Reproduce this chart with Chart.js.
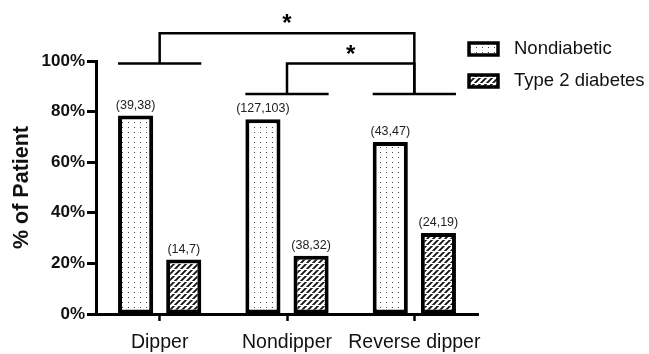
<!DOCTYPE html>
<html>
<head>
<meta charset="utf-8">
<script src="https://cdn.jsdelivr.net/npm/chart.js@4/dist/chart.umd.min.js"></script>
<style>
  body { margin: 0; background: #fff; }
  #wrap { width: 649px; height: 354px; }
</style>
</head>
<body>
<div id="wrap"><canvas id="chartPatient"></canvas></div>
<script>
// 데이터
const categories = ['Dipper', 'Nondipper', 'Reverse dipper'];
const seriesNames = ['Nondiabetic', 'Type 2 diabetes'];
const nondiabetic = [78.5, 77, 68];
const type2 = [21.5, 23, 32];
const nondiabeticCounts = ['(39,38)', '(127,103)', '(43,47)'];
const type2Counts = ['(14,7)', '(38,32)', '(24,19)'];
const yTicks = [0, 20, 40, 60, 80, 100];

// 유의성 표시: 그룹 아래 선 높이(%), 비교 [from, to, 높이]
const groupLine = [99, 87, 87];
const comparisons = [[0, 2, 111], [1, 2, 99]];

const FONT = "'Liberation Sans', Arial, sans-serif";

// 점 패턴
function dotPattern(){
    const c = document.createElement('canvas');
    c.width = 6; c.height = 5;
    const g = c.getContext('2d');
    g.fillStyle = '#fff';
    g.fillRect(0, 0, 6, 5);
    g.fillStyle = '#444';
    g.fillRect(2, 2, 1, 1);
    return g.createPattern(c, 'repeat');
}

// 빗금 패턴
function hatchPattern(){
    const c = document.createElement('canvas');
    c.width = 6; c.height = 6;
    const g = c.getContext('2d');
    g.fillStyle = '#fff';
    g.fillRect(0, 0, 6, 6);
    g.strokeStyle = '#111';
    g.lineWidth = 1.8;
    g.beginPath();
    g.moveTo(-1, 7); g.lineTo(7, -1);
    g.moveTo(-1, 1); g.lineTo(1, -1);
    g.moveTo(5, 7); g.lineTo(7, 5);
    g.stroke();
    g.fillStyle = '#fff';
    g.fillRect(0, 5, 6, 1);
    return g.createPattern(c, 'repeat');
}

const patterns = [dotPattern(), hatchPattern()];
const countLabels = [nondiabeticCounts, type2Counts];

const annotatePlugin = {
    id: 'annotate',
    afterDraw(chart){
        const ctx = chart.ctx;
        const x = chart.scales.x, y = chart.scales.y;
        ctx.save();

        // 막대 위 숫자
        ctx.fillStyle = '#222';
        ctx.font = '12.5px ' + FONT;
        ctx.textAlign = 'center';
        ctx.textBaseline = 'bottom';
        chart.data.datasets.forEach(function(ds, di){
            chart.getDatasetMeta(di).data.forEach(function(bar, i){
                ctx.fillText(countLabels[di][i], bar.x, bar.y - 4);
            });
        });

        // 그룹 아래 선
        const m0 = chart.getDatasetMeta(0).data;
        const m1 = chart.getDatasetMeta(1).data;
        ctx.strokeStyle = '#000';
        ctx.lineWidth = 2.5;
        ctx.lineCap = 'butt';
        categories.forEach(function(c, i){
            const left = m0[i].x - m0[i].width / 2;
            const right = m1[i].x + m1[i].width / 2;
            const yy = y.getPixelForValue(groupLine[i]);
            ctx.beginPath();
            ctx.moveTo(left, yy);
            ctx.lineTo(right, yy);
            ctx.stroke();
        });

        // 비교 브래킷
        ctx.font = 'bold 24px ' + FONT;
        ctx.fillStyle = '#000';
        comparisons.forEach(function(cmp){
            const xa = x.getPixelForValue(cmp[0]);
            const xb = x.getPixelForValue(cmp[1]);
            const top = y.getPixelForValue(cmp[2]);
            ctx.beginPath();
            ctx.moveTo(xa, y.getPixelForValue(groupLine[cmp[0]]));
            ctx.lineTo(xa, top);
            ctx.lineTo(xb, top);
            ctx.lineTo(xb, y.getPixelForValue(groupLine[cmp[1]]));
            ctx.stroke();
            ctx.textBaseline = 'alphabetic';
            ctx.fillText('*', (xa + xb) / 2, top - 2);
        });

        // 범례
        ctx.textAlign = 'left';
        ctx.textBaseline = 'middle';
        ctx.font = '18.5px ' + FONT;
        seriesNames.forEach(function(name, i){
            const bx = 469, by = 43 + i * 32;
            ctx.fillStyle = patterns[i];
            ctx.fillRect(bx, by, 29, 12);
            ctx.lineWidth = 3.5;
            ctx.strokeStyle = '#000';
            ctx.strokeRect(bx, by, 29, 12);
            ctx.fillStyle = '#111';
            ctx.fillText(name, 514, by + 6);
        });
        ctx.restore();
    }
};

document.addEventListener("DOMContentLoaded", function(){
    const ctx = document.getElementById('chartPatient').getContext('2d');
    new Chart(ctx, {
        type: 'bar',
        data: {
            labels: categories,
            datasets: [{
                label: seriesNames[0],
                data: nondiabetic,
                backgroundColor: patterns[0],
                borderColor: '#000',
                borderWidth: 4,
                borderSkipped: false
            }, {
                label: seriesNames[1],
                data: type2,
                backgroundColor: patterns[1],
                borderColor: '#000',
                borderWidth: 4,
                borderSkipped: false
            }]
        },
        options: {
            responsive: true,
            maintainAspectRatio: false,
            animation: false,
            categoryPercentage: 0.756,
            barPercentage: 0.73,
            layout: { padding: { top: 61, left: 9, right: 171, bottom: 0 } },
            plugins: {
                legend: { display: false },
                tooltip: { enabled: false }
            },
            scales: {
                x: {
                    afterFit: function(axis){ axis.height = 40; },
                    grid: { drawOnChartArea: false, offset: false, drawTicks: true, tickLength: 7, tickWidth: 2.5, tickColor: '#000' },
                    border: { color: '#000', width: 3 },
                    ticks: { color: '#111', font: { family: FONT, size: 19.5 }, padding: 10,
                        maxRotation: 0, minRotation: 0, autoSkip: false }
                },
                y: {
                    min: 0,
                    max: 100,
                    afterFit: function(axis){ axis.width = 87; },
                    afterBuildTicks: function(axis){ axis.ticks = yTicks.map(function(v){ return { value: v }; }); },
                    grid: { drawOnChartArea: false, drawTicks: true, tickLength: 9, tickWidth: 3, tickColor: '#000' },
                    border: { color: '#000', width: 3 },
                    ticks: { color: '#111', font: { family: FONT, size: 17, weight: 'bold' }, padding: 2,
                        callback: function(v){ return v + '%'; } },
                    title: { display: true, text: '% of Patient', color: '#111', font: { family: FONT, size: 21.5, weight: 'bold' }, padding: 0 }
                }
            }
        },
        plugins: [annotatePlugin]
    });
});
</script>
</body>
</html>
